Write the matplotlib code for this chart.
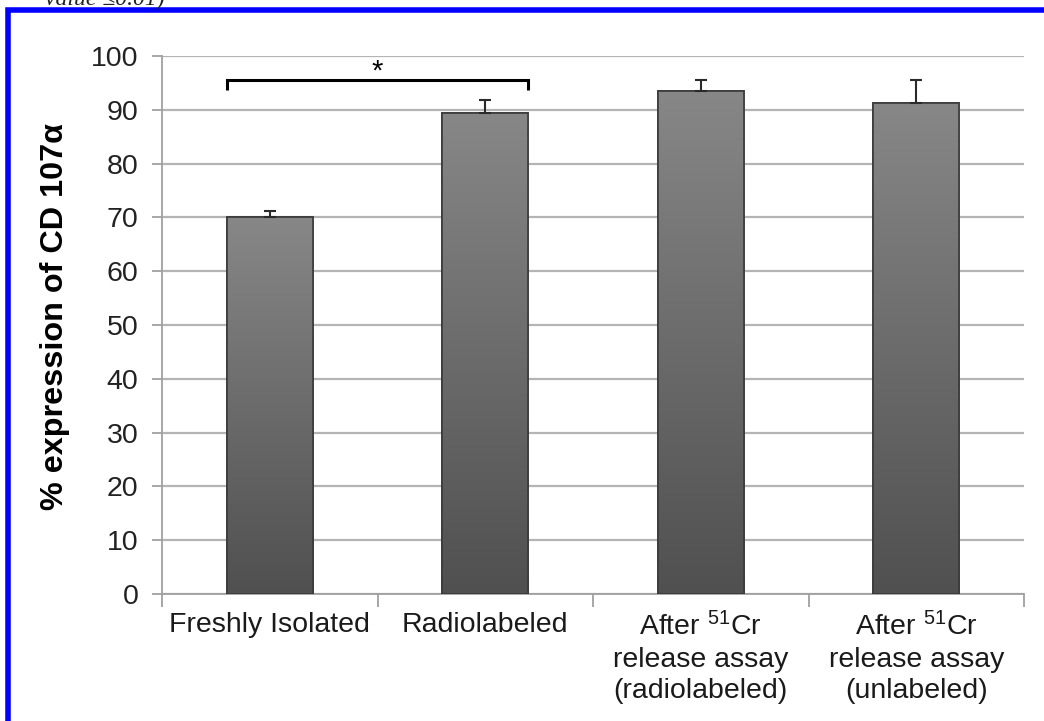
import numpy as np
import matplotlib
matplotlib.use("Agg")
import matplotlib.pyplot as plt
from matplotlib.patches import Rectangle
from matplotlib.colors import LinearSegmentedColormap

plt.rcParams['font.family'] = ['Liberation Sans', 'DejaVu Sans']
plt.rcParams['mathtext.fontset'] = 'custom'
plt.rcParams['mathtext.rm'] = 'Liberation Sans'
plt.rcParams['mathtext.it'] = 'Liberation Sans'

categories = ["Freshly Isolated", "Radiolabeled",
              "After $^{51}$Cr\nrelease assay\n(radiolabeled)",
              "After $^{51}$Cr\nrelease assay\n(unlabeled)"]
values = [70.0, 89.4, 93.5, 91.2]
errors = [1.2, 2.4, 2.0, 4.3]
yticks = [0, 10, 20, 30, 40, 50, 60, 70, 80, 90, 100]
ylabel = "% expression of CD 107α"
sig_pair = (0, 1)
sig_mark = "*"
header_text = "value ≤0.01)"

W, H = 1044, 721
fig = plt.figure(figsize=(W / 100, H / 100), dpi=100)
ax = fig.add_axes([162 / W, 1 - 594 / H, (1024 - 162) / W, (594 - 56) / H])

x = np.arange(len(values))
bw = 0.4
bars = ax.bar(x, values, width=bw, color='#6e6e6e', edgecolor='#3a3a3a',
              linewidth=1.2, zorder=3)
# gradient fill
grad = np.linspace(0, 1, 256).reshape(-1, 1)
cmap = LinearSegmentedColormap.from_list('g', ['#505050', '#878787'])
for b in bars:
    x0, y0 = b.get_x(), b.get_y()
    w, h = b.get_width(), b.get_height()
    im = ax.imshow(grad, cmap=cmap, aspect='auto', origin='lower',
                   extent=[x0, x0 + w, y0, y0 + h], zorder=3.5)
    im.set_clip_path(b)
    ax.add_patch(Rectangle((x0, y0), w, h, fill=False, edgecolor='#3a3a3a',
                           linewidth=1.2, zorder=4))

ax.errorbar(x, values, yerr=[np.zeros(len(errors)), errors], fmt='none',
            ecolor='#2a2a2a', elinewidth=1.5, capsize=4, capthick=1.5, zorder=5)

ax.set_xlim(-0.5, len(values) - 0.5)
ax.set_ylim(0, 100)
ax.set_yticks(yticks)
ax.set_yticklabels([str(t) for t in yticks], fontsize=20.5, color='#222222')
ax.yaxis.grid(True, color='#b4b4b4', linewidth=1.6, zorder=0)
ax.set_axisbelow(True)

ax.set_xticks(x)
ax.set_xticklabels(categories, fontsize=20.5, color='#1a1a1a', linespacing=1.28)
ax.tick_params(axis='x', length=0, pad=13)
ax.set_xticks(np.arange(-0.5, len(values), 1), minor=True)
ax.tick_params(axis='x', which='minor', length=9, color='#a0a0a0', width=1.3)
ax.tick_params(axis='y', length=7, color='#a0a0a0', width=1.3, pad=10)

for s in ['top', 'right']:
    ax.spines[s].set_visible(False)
for s in ['left', 'bottom']:
    ax.spines[s].set_color('#a0a0a0')
    ax.spines[s].set_linewidth(1.3)

ax.set_ylabel(ylabel, fontsize=23.3, fontweight='bold', labelpad=15)
ax.yaxis.label.set_y(0.515)

# significance bracket
i, j = sig_pair
bx0, bx1 = x[i] - bw / 2, x[j] + bw / 2
ytop, ybot = 95.5, 93.7
ax.plot([bx0, bx0, bx1, bx1], [ybot, ytop, ytop, ybot], color='black',
        lw=2.2, solid_capstyle='butt', solid_joinstyle='miter', clip_on=False, zorder=6)
ax.text((bx0 + bx1) / 2, 97.2, sig_mark, ha='center', va='center', fontsize=21,
        color='black')

# blue frame (cropped by the image edges)
fig.add_artist(Rectangle((8 / W, -0.05), 1.2, (H - 10) / H + 0.05,
                         transform=fig.transFigure, fill=False,
                         edgecolor='#0000ff', linewidth=4, clip_on=False))
fig.text(45 / W, 1 - 5 / H, header_text, fontsize=17, family='Liberation Serif',
         style='italic', va='baseline', ha='left', color='#222222')

fig.savefig("out.png", dpi=100)
